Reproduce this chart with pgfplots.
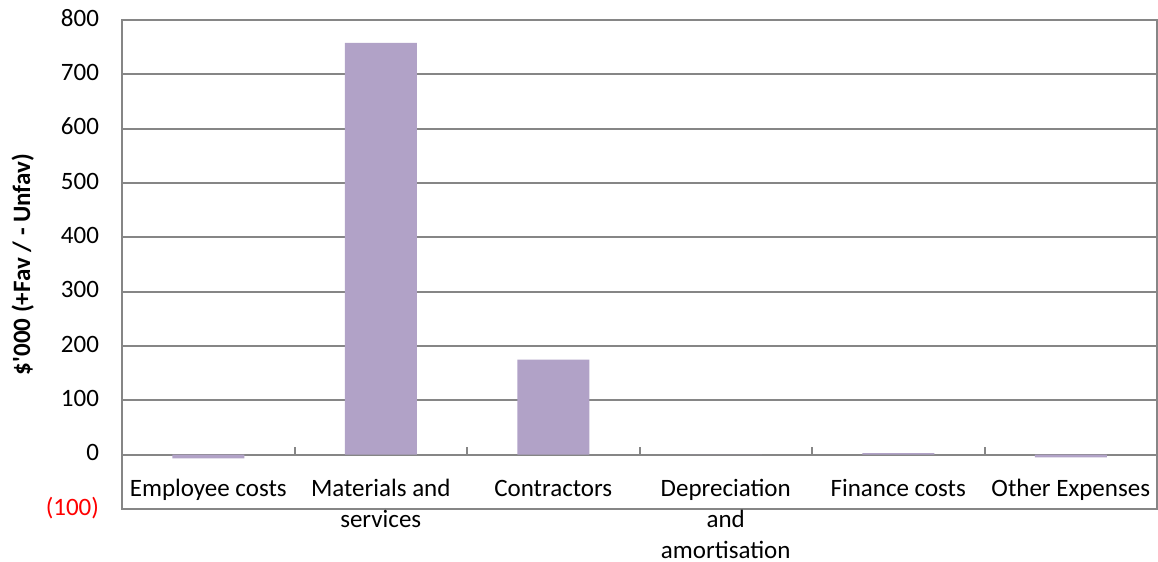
\documentclass[border=0pt]{standalone}
\usepackage{pgfplots}
\pgfplotsset{compat=1.18}
\usepackage{fontspec}
\setmainfont{Carlito}
\definecolor{barpurple}{RGB}{177,162,199}
\definecolor{gridgray}{RGB}{134,134,134}

\begin{document}
\begin{tikzpicture}[font=\fontsize{12.5}{15.5}\selectfont]
\begin{axis}[
  name=main,
  scale only axis,
  width=517.5pt, height=244.5pt,
  xmin=-0.5, xmax=5.5,
  ymin=-100, ymax=800,
  ytick={-100,0,100,...,800},
  yticklabels={{\textcolor{red}{(100)}},0,100,200,300,400,500,600,700,800},
  yticklabel style={xshift=-8pt},
  xtick={0,...,5},
  xticklabels={Employee costs, Materials and\\services, Contractors,
               Depreciation\\and\\amortisation, Finance costs, Other Expenses},
  typeset ticklabels with strut,
  xticklabel style={align=center, anchor=north, yshift=20.5pt},
  major tick length=0pt,
  ymajorgrids,
  grid style={gridgray, line width=1pt},
  axis line style={gridgray, line width=1pt},
  ylabel={\bfseries \$\textquotesingle 000 (+Fav / - Unfav)},
  ylabel shift=-1pt,
  clip=false,
]
\addplot[ybar, bar width=36pt, fill=barpurple, draw=none]
  coordinates {(0,-7) (1,758) (2,175) (3,0) (4,3) (5,-5)};
% category separators sitting on the zero line
\pgfplotsinvokeforeach{0.5,1.5,2.5,3.5,4.5}{
  \draw[gridgray, line width=1pt] (axis cs:#1,0) -- ([yshift=4pt]axis cs:#1,0);
}
\end{axis}
\pgfresetboundingbox
\path (main.south west) ++(-61pt,-26.5pt) rectangle ([shift={(0.5pt,10pt)}]main.north east);
\end{tikzpicture}
\end{document}
